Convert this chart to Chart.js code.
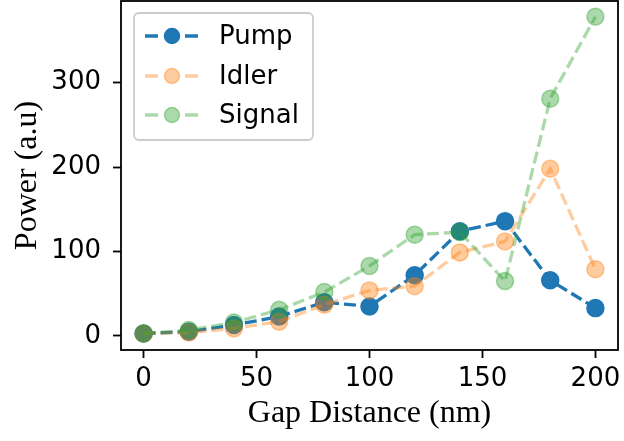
<!DOCTYPE html>
<html>
<head>
<meta charset="utf-8">
<script src="https://cdn.jsdelivr.net/npm/chart.js@4.4.0/dist/chart.umd.min.js"></script>
<style>
  html, body { margin: 0; padding: 0; background: #ffffff; }
  #wrap { width: 624px; height: 441px; }
</style>
</head>
<body>
<div id="wrap"><canvas id="powerChart" width="624" height="441"></canvas></div>
<script>
const gapNm = [0, 20, 40, 60, 80, 100, 120, 140, 160, 180, 200];
const pumpPower = [3, 5, 13, 23, 40, 35, 72, 124, 136, 66, 33];
const idlerPower = [3, 4, 9, 17, 37, 54, 59, 99, 112, 198, 79];
const signalPower = [3, 7, 16, 31, 52, 83, 120, 123, 65, 281, 378];
const xTicks = [0, 50, 100, 150, 200];
const yTicks = [0, 100, 200, 300];

const TICK_FONT = { family: 'DejaVu Sans', size: 26 };
const TITLE_FONT = { family: 'Liberation Serif', size: 32 };

function toPoints(values) {
    return gapNm.map((x, i) => ({ x: x, y: values[i] }));
}

function makeSeries(label, values, color, order) {
    return {
        label: label,
        data: toPoints(values),
        borderColor: color,
        backgroundColor: color,
        pointBackgroundColor: color,
        pointBorderColor: color,
        borderWidth: 3.3,
        borderDash: [12, 5],
        pointRadius: 8.5,
        pointBorderWidth: 1.5,
        pointHoverRadius: 8.5,
        tension: 0,
        order: order
    };
}

// box around the plot, like matplotlib spines
const framePlugin = {
    id: 'framePlugin',
    afterDatasetsDraw(chart) {
        const a = chart.chartArea;
        const ctx = chart.ctx;
        ctx.save();
        ctx.strokeStyle = '#000';
        ctx.lineWidth = 1.8;
        ctx.setLineDash([]);
        ctx.strokeRect(a.left, a.top, a.right - a.left, a.bottom - a.top);
        ctx.restore();
    }
};

// legend drawn inside the axes, upper left
const insideLegend = {
    id: 'insideLegend',
    afterDraw(chart) {
        const ctx = chart.ctx;
        const x0 = 134, y0 = 13, w = 179, h = 127, r = 5;
        ctx.save();
        ctx.beginPath();
        ctx.moveTo(x0 + r, y0);
        ctx.arcTo(x0 + w, y0, x0 + w, y0 + h, r);
        ctx.arcTo(x0 + w, y0 + h, x0, y0 + h, r);
        ctx.arcTo(x0, y0 + h, x0, y0, r);
        ctx.arcTo(x0, y0, x0 + w, y0, r);
        ctx.closePath();
        ctx.fillStyle = 'rgba(255,255,255,0.8)';
        ctx.fill();
        ctx.strokeStyle = '#cccccc';
        ctx.lineWidth = 1.8;
        ctx.stroke();

        const rows = [36, 76, 115];
        chart.data.datasets.forEach((ds, i) => {
            const y = rows[i];
            ctx.strokeStyle = ds.borderColor;
            ctx.lineWidth = ds.borderWidth;
            ctx.setLineDash([]);
            ctx.beginPath();
            ctx.moveTo(145, y); ctx.lineTo(158, y);
            ctx.moveTo(185, y); ctx.lineTo(198, y);
            ctx.stroke();
            ctx.beginPath();
            ctx.arc(172, y, 7.5, 0, Math.PI * 2);
            ctx.fillStyle = ds.pointBackgroundColor;
            ctx.fill();
            ctx.lineWidth = ds.pointBorderWidth;
            ctx.strokeStyle = ds.pointBorderColor;
            ctx.stroke();
            ctx.fillStyle = '#000';
            ctx.font = '26px "DejaVu Sans"';
            ctx.textAlign = 'left';
            ctx.textBaseline = 'middle';
            ctx.fillText(ds.label, 219, y + 1);
        });
        ctx.restore();
    }
};

const tickGrid = {
    display: true,
    drawOnChartArea: false,
    drawTicks: true,
    tickLength: 8,
    tickWidth: 1.8,
    tickColor: '#000'
};

new Chart(document.getElementById('powerChart').getContext('2d'), {
    type: 'line',
    data: {
        datasets: [
            makeSeries('Pump', pumpPower, 'rgb(31,119,180)', 3),
            makeSeries('Idler', idlerPower, 'rgba(255,127,14,0.4)', 2),
            makeSeries('Signal', signalPower, 'rgba(44,160,44,0.4)', 1)
        ]
    },
    options: {
        responsive: false,
        animation: false,
        devicePixelRatio: 1,
        layout: {
            autoPadding: false,
            padding: { left: 0, right: 6, top: 1, bottom: 0 }
        },
        scales: {
            x: {
                type: 'linear',
                min: -10,
                max: 210,
                afterBuildTicks: (scale) => { scale.ticks = xTicks.map(v => ({ value: v })); },
                afterFit: (scale) => {
                    scale.height = 91;
                    scale.paddingLeft = 0;
                    scale.paddingRight = 0;
                },
                grid: tickGrid,
                border: { display: false },
                ticks: {
                    color: '#000',
                    font: TICK_FONT,
                    padding: 6,
                    maxRotation: 0,
                    minRotation: 0
                },
                title: {
                    display: true,
                    text: 'Gap Distance (nm)',
                    color: '#000',
                    font: TITLE_FONT,
                    padding: { top: 8, bottom: 8 }
                }
            },
            y: {
                type: 'linear',
                min: -16.6,
                max: 396.7,
                afterBuildTicks: (scale) => { scale.ticks = yTicks.map(v => ({ value: v })); },
                afterFit: (scale) => {
                    scale.width = 121;
                    scale.paddingTop = 0;
                    scale.paddingBottom = 0;
                },
                grid: tickGrid,
                border: { display: false },
                ticks: {
                    color: '#000',
                    font: TICK_FONT,
                    padding: 12
                },
                title: {
                    display: true,
                    text: 'Power (a.u)',
                    color: '#000',
                    font: TITLE_FONT,
                    padding: { top: 8, bottom: 8 }
                }
            }
        },
        plugins: {
            legend: { display: false },
            tooltip: { enabled: false }
        }
    },
    plugins: [framePlugin, insideLegend]
});
</script>
</body>
</html>
